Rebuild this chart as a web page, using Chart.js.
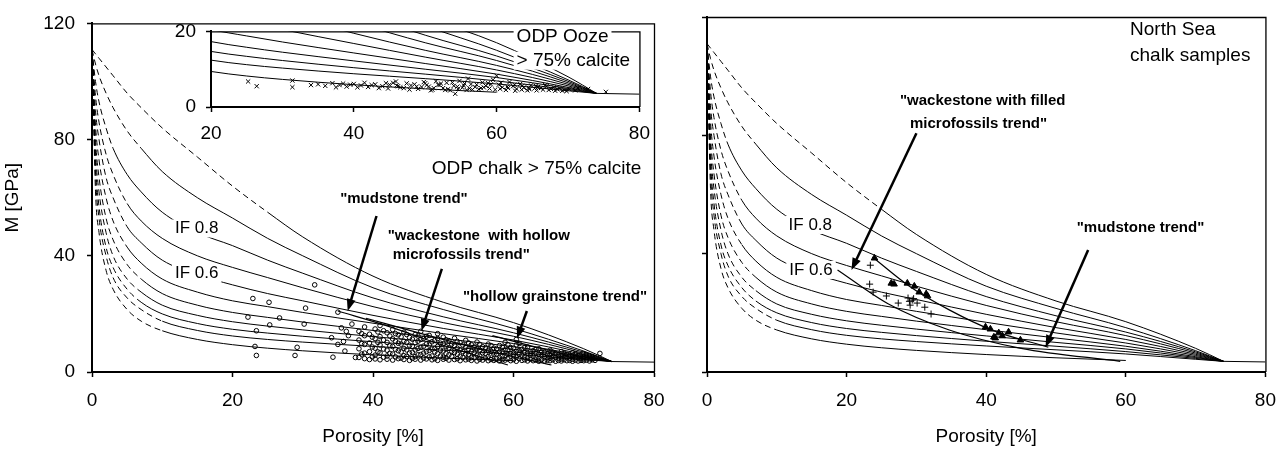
<!DOCTYPE html>
<html>
<head>
<meta charset="utf-8">
<script src="https://cdn.jsdelivr.net/npm/chart.js@4/dist/chart.umd.min.js"></script>
<style>
body { margin: 0; background: #fff; width: 1288px; height: 452px; position: relative; overflow: hidden; }
canvas { position: absolute; }
#leftChart { left: 0; top: 0; }
#rightChart { left: 680px; top: 0; }
#insetChart { left: 150px; top: 10px; }
</style>
</head>
<body>
<canvas id="leftChart" width="680" height="452"></canvas>
<canvas id="rightChart" width="608" height="452"></canvas>
<canvas id="insetChart" width="510" height="140"></canvas>
<script>
Chart.defaults.font.family = '"Liberation Sans", Arial, sans-serif';
Chart.defaults.color = '#000';
Chart.defaults.animation = false;

/* iso-frame model lines, M [GPa] read at these porosities */
const porosityGrid = [0, 0.5, 1, 2, 3, 5, 7, 10, 15, 20, 25, 30, 40, 50, 60, 70, 74];
const curveIF10 = [111, 109.5, 108, 105, 102, 96, 91, 84, 74, 64, 55, 46.5, 33, 24, 17, 8, 3.6];
const curveIF09 = [111, 106, 102, 96, 91, 83, 77, 69, 60, 53, 46, 40, 29, 21.5, 15, 7.2, 3.6];
const curveIF08 = [111, 100, 93, 84, 77, 68, 62, 55, 48, 43.5, 38.5, 34, 25.5, 19, 13.5, 6.8, 3.6];
const curveIF07 = [111, 95, 86, 75, 68, 58, 52, 46, 40, 36, 32.5, 29, 22.5, 17, 12.3, 6.4, 3.6];
const curveIF06 = [111, 90, 80, 67, 60, 50, 44.5, 38.5, 33.5, 30, 27, 24.5, 19.5, 15, 11, 6, 3.6];
const curveIF05 = [111, 85, 73, 60, 52, 43, 37.5, 32, 27.5, 24.5, 22.5, 20.5, 16.8, 13.2, 9.8, 5.6, 3.6];
const curveIF04 = [111, 80, 67, 53, 45.5, 37, 32, 27, 23, 20.5, 18.8, 17.2, 14.3, 11.5, 8.7, 5.2, 3.6];
const curveIF03 = [111, 76, 62, 48, 40, 32, 27.5, 23, 19.5, 17.3, 15.8, 14.5, 12.2, 10, 7.8, 4.9, 3.6];
const curveIF02 = [111, 72, 57, 43, 36, 28.5, 24, 20, 16.7, 14.7, 13.4, 12.3, 10.4, 8.7, 6.9, 4.6, 3.6];
const curveIF01 = [111, 68, 53, 40, 32.5, 25.5, 21.5, 17.5, 14.3, 12.4, 11.2, 10.3, 8.8, 7.5, 6.1, 4.3, 3.6];
const curveIF00 = [111, 62, 48, 35, 28.5, 21.5, 17.5, 14.2, 11.2, 9.4, 8.2, 7.3, 5.9, 4.8, 3.9, null, null];
const modelCurves = [curveIF10, curveIF09, curveIF08, curveIF07, curveIF06, curveIF05,
                     curveIF04, curveIF03, curveIF02, curveIF01, curveIF00];
const dashedUntil = [25, 7, 3, 5, 5, 5, 7, 7, 7, 10, 10];

/* suspension line beyond critical porosity */
const fluidPor = [74, 80];
const fluidM = [3.6, 3.4];

/* ODP chalk > 75% calcite */
const chalkPor = [22.9, 25.2, 30.4, 31.7, 35.0, 22.2, 26.7, 25.3, 30.2, 23.4, 23.2, 23.4,
                  28.9, 29.2, 34.3, 34.1, 35.5, 36.2, 37.0, 36.5, 35.8, 35.0, 36.0, 37.5, 72.3];
const chalkM = [25.3, 24.0, 22.0, 30.0, 20.6, 18.9, 18.6, 16.2, 16.5, 14.2, 8.8, 5.7,
                5.7, 8.5, 5.1, 11.8, 15.2, 14.0, 16.5, 12.5, 10.5, 9.5, 7.2, 5.0, 6.4];
const chalkBandPor = [38, 38.8, 39.5, 40.3, 41, 42, 42.8, 43.6, 44.4, 45.2, 46, 46.8, 47.6, 48.4,
                      49.2, 50, 50.8, 51.6, 52.4, 53.2, 54, 54.8, 55.6, 56.4, 57.2, 58, 58.8, 59.6,
                      60.4, 61.2, 62, 62.8, 63.6, 64.4, 65.2, 66, 66.8, 67.6, 68.4, 69.2, 70, 70.8, 71.6];
const chalkBandM = [
  [5, 8, 11, 14], [4.6, 6.5, 9.5, 12.5, 15.5], [4.3, 7, 10, 13], [4.5, 5.8, 8.2, 11.5, 14.8],
  [4.2, 6.6, 9.3, 12.2, 16], [4.4, 5.5, 7.5, 10.2, 13.5], [4.1, 6.2, 8.8, 11.4, 14.6],
  [4.6, 7.3, 9.9, 12.8], [4.3, 5.6, 8.1, 10.6, 13.7], [4.0, 6.5, 9.2, 11.9],
  [4.4, 5.3, 7.6, 10.1, 12.9], [4.1, 6.0, 8.5, 11.2, 14], [4.5, 7.0, 9.6, 12.3],
  [4.2, 5.5, 7.9, 10.4], [4.0, 6.3, 8.8, 11.5, 13.2], [4.4, 5.1, 7.2, 9.7, 12],
  [4.1, 5.9, 8.3, 10.8], [4.3, 6.7, 9.1, 11.6], [3.9, 5.4, 7.6, 10.1], [4.2, 6.2, 8.5, 10.9],
  [4.0, 5.0, 7.1, 9.4], [3.8, 5.8, 8, 10.3], [4.1, 6.6, 8.7], [3.9, 5.3, 7.4, 9.6],
  [4.0, 6.1, 8.2], [3.8, 4.9, 6.9, 9.1], [4.1, 5.7, 7.6, 10.2], [3.9, 6.3, 8.4],
  [3.7, 5.1, 7.1, 9.3, 11.2], [4.0, 5.8, 7.8], [3.8, 4.8, 6.5, 8.6], [3.9, 5.5, 7.3],
  [3.7, 4.6, 6.1, 8], [3.8, 5.2, 6.8], [3.9, 4.7, 5.9, 7.5], [3.7, 5.0, 6.4],
  [3.8, 4.5, 5.6, 7], [3.9, 4.9, 6.1], [3.7, 4.4, 5.4, 6.6], [3.8, 4.8, 5.8],
  [3.9, 4.5, 5.3, 6.3], [3.8, 4.6, 5.6], [4.0, 4.9]
];
const chalkBand2Por = [38.4, 39.9, 40.7, 41.5, 42.4, 43.2, 44, 44.8, 45.6, 46.4, 47.2, 48, 48.8, 49.6,
                       50.4, 51.2, 52, 52.8, 53.6, 54.4, 55.2, 56, 56.8, 57.6, 58.4, 59.2, 60, 60.8,
                       61.6, 62.4, 63.2, 64, 64.8, 65.6, 66.4, 67.2, 68, 68.8, 69.6, 70.4, 71.2];
const chalkBand2M = [
  [6.2, 9.8, 13.2], [5.2, 8.6, 12], [6.9, 10.2, 13.8], [5.1, 7.9, 11, 14.2], [6.4, 9, 12.4],
  [5.2, 7.8, 10.6, 13.2], [4.8, 6.9, 9.6, 12.1], [5.4, 7.6, 10.2, 12.9], [4.7, 6.8, 8.9, 11.3],
  [5.9, 8.1, 10.6, 12.4], [4.8, 6.5, 8.9, 11.6], [5.2, 7.4, 9.3, 12.6], [4.6, 6.9, 8.1, 10.9],
  [5.5, 7.5, 9.9], [4.7, 6.4, 8.7, 11.1], [5.3, 7.1, 9.6], [4.6, 6.1, 8.2, 10.5], [5.0, 7.0, 9.3],
  [4.5, 5.9, 7.9, 10], [4.9, 6.6, 8.6], [4.4, 5.5, 7.5, 9.5], [4.8, 6.4, 8.3], [4.3, 5.7, 7.2, 9.1],
  [4.6, 6.2, 7.9], [4.2, 5.4, 7.1, 8.6], [4.5, 6.0, 7.7, 9.4], [4.3, 5.5, 6.7, 8.2],
  [4.6, 6.2, 7.4, 9.8], [4.2, 5.2, 6.7, 8.4], [4.4, 5.8, 7.0], [4.1, 5.0, 6.5, 7.8],
  [4.3, 5.6, 6.9], [4.1, 5.0, 6.2], [4.2, 5.4, 6.8], [4.0, 4.8, 5.9], [4.2, 5.3, 6.4],
  [4.0, 4.7, 5.8], [4.1, 5.1, 6.2], [4.0, 4.6, 5.5], [4.1, 5.0, 5.9], [4.2, 4.7, 5.3]
];

/* trend lines drawn through the ODP chalk */
const mudTrendPor = [35, 42, 50, 59.2];
const mudTrendM = [21, 15.9, 9.2, 2.4];
const wackeTrendPor = [39, 46.9, 56, 65.4];
const wackeTrendM = [18.5, 13.2, 7.5, 2.4];
const grainTrendPor = [57, 65, 74];
const grainTrendM = [12.5, 7.5, 3.6];

/* ODP ooze (inset) */
const oozePor = [25.2, 26.4, 31.4, 31.4, 34, 35, 36, 37, 38, 39, 40, 41, 42, 43, 44, 45, 45.9, 46.5,
                 47.4, 48, 49, 50, 50.5, 51, 51.5, 52, 52.5, 53, 53.5, 54, 54.2, 54.8, 55.2, 55.8, 56,
                 56.4, 57, 57.5, 58, 58.5, 59, 59.5, 60, 60.3, 60.8, 61.3, 61.8, 62.3, 62.8, 63.3, 63.8,
                 64.3, 64.8, 65.3, 65.8, 66.5, 67, 67.6, 68.2, 68.8, 69.5, 70.2, 71.4, 72.8, 75.3,
                 37.5, 38.5, 39.5, 40.5, 41.5, 42.5, 43.5, 44.5, 46, 47, 48.5, 49.5, 50.2, 51.2, 52.2,
                 53.2, 54.5, 55.5, 56.2, 57.2, 58.2, 59.2, 60.5, 61.5, 62.5, 63.5, 64.5, 65.5, 66.2,
                 67.3, 68.5, 69.8, 71,
                 44.8, 45.5, 46.2, 47.8, 48.8, 49.8, 50.8, 51.8, 52.8, 53.8, 54.6, 55.4, 56.6, 57.8,
                 58.8, 59.8, 60.6, 61.6, 62.6, 63.6, 64.6, 65.6, 66.8, 68, 69.2];
const oozeM = [6.75, 5.5, 7, 5.25, 5.8, 6, 5.6, 6.3, 5.8, 5.4, 6.1, 5.7, 5.3, 6, 5.5, 5.9, 6.75, 5.2,
               6.25, 5.7, 4.8, 6.3, 5.4, 4.6, 6.8, 5.8, 5, 6.4, 4.4, 5.6, 3.5, 6.9, 5.1, 4.5, 7.5,
               6, 5.3, 4.7, 6.5, 5.6, 4.9, 7.2, 8.25, 5.9, 5.2, 4.5, 6.6, 5.5, 4.8, 6.1, 5.1,
               4.4, 5.7, 4.9, 5.3, 4.6, 5.5, 4.8, 4.3, 5, 4.5, 4.7, 5, 4.75, 4,
               5.2, 6.2, 5.9, 5.2, 6.4, 5.8, 5.0, 6.3, 5.7, 5.0, 6.0, 5.3, 5.8, 5.0, 6.2,
               4.7, 5.4, 6.2, 4.9, 5.9, 5.2, 6.0, 4.8, 5.4, 5.9, 4.6, 5.1, 5.6, 5.0,
               4.5, 4.7, 4.2, 4.4,
               4.9, 6.4, 5.5, 4.6, 5.4, 6.6, 4.4, 5.9, 4.5, 6.5, 4.8, 5.7, 4.6, 5.0,
               6.3, 4.6, 6.4, 5.0, 4.3, 5.6, 4.7, 4.4, 5.8, 5.2, 4.3];

/* North Sea chalk */
const nsTriPor = [24.0, 26.4, 26.8, 28.7, 29.7, 30.4, 31.4, 31.6, 39.9, 40.6, 41.1, 41.3, 41.8, 42.3, 43.2, 44.9];
const nsTriM = [38.5, 30.0, 29.7, 30.0, 29.0, 27.0, 26.4, 25.7, 15.2, 14.5, 11.8, 11.5, 13.2, 12.2, 13.5, 10.8];
const nsPlusPor = [23.4, 23.3, 23.8, 25.7, 27.4, 28.8, 29.0, 29.1, 29.4, 30.1, 31.2, 32.1, 29.6];
const nsPlusM = [36.1, 29.7, 27.0, 25.7, 23.3, 25.0, 23.9, 22.6, 24.3, 23.3, 21.9, 19.6, 24.8];
const plusTrendPor = [18.7, 26, 34.7, 45, 59.2];
const plusTrendM = [34.5, 23, 14.2, 8, 3.6];
const triTrendPor = [23.7, 29, 34.7, 41, 48.9];
const triTrendM = [38.9, 29, 21, 14, 8.4];

function pts(xs, ys) {
    return xs.map((x, i) => ({ x: x, y: ys[i] })).filter(p => p.y !== null);
}

function columnPts(xs, cols) {
    const out = [];
    xs.forEach((x, i) => cols[i].forEach(m => out.push({ x: x, y: m })));
    return out;
}

function modelSets() {
    const sets = modelCurves.map((m, i) => ({
        data: pts(porosityGrid, m),
        showLine: true,
        pointRadius: 0,
        borderColor: '#000',
        borderWidth: 1,
        cubicInterpolationMode: 'monotone',
        segment: { borderDash: ctx => ctx.p1.parsed.x <= dashedUntil[i] ? [6, 4] : undefined }
    }));
    sets.push({ data: pts(fluidPor, fluidM), showLine: true, pointRadius: 0, borderColor: '#000', borderWidth: 1 });
    return sets;
}

function trendSet(xs, ys) {
    return { data: pts(xs, ys), showLine: true, pointRadius: 0, borderColor: '#000',
             borderWidth: 1.2, cubicInterpolationMode: 'monotone' };
}

function markerSet(data, style, r, filled) {
    return { data: data, showLine: false, pointStyle: style, pointRadius: r, borderColor: '#000',
             borderWidth: 1, backgroundColor: filled ? '#000' : 'rgba(0,0,0,0)' };
}

/* frame, text notes and arrows */
const notesPlugin = {
    id: 'notes',
    afterDatasetsDraw(chart, args, opts) {
        const ctx = chart.ctx, a = chart.chartArea, xs = chart.scales.x, ys = chart.scales.y;
        ctx.save();
        ctx.strokeStyle = '#000';
        ctx.fillStyle = '#000';
        ctx.lineWidth = 1.3;
        ctx.beginPath();
        ctx.moveTo(a.left, a.top + 0.5);
        ctx.lineTo(a.right + 0.5, a.top + 0.5);
        ctx.lineTo(a.right + 0.5, a.bottom);
        ctx.stroke();
        (opts.labels || []).forEach(l => {
            ctx.font = l.font;
            ctx.textAlign = l.align;
            ctx.textBaseline = 'middle';
            const px = xs.getPixelForValue(l.x), py = ys.getPixelForValue(l.y);
            if (l.box) {
                const w = ctx.measureText(l.text).width;
                const left = l.align === 'left' ? px : px - w / 2;
                ctx.fillStyle = '#fff';
                ctx.fillRect(left - 3, py - 9, w + 6, 18);
                ctx.fillStyle = '#000';
            }
            ctx.fillText(l.text, px, py);
        });
        (opts.arrows || []).forEach(ar => {
            const x1 = xs.getPixelForValue(ar[0]), y1 = ys.getPixelForValue(ar[1]);
            const x2 = xs.getPixelForValue(ar[2]), y2 = ys.getPixelForValue(ar[3]);
            const ang = Math.atan2(y2 - y1, x2 - x1), head = 12, half = 4.5;
            const c = Math.cos(ang), s = Math.sin(ang);
            ctx.lineWidth = 2.5;
            ctx.beginPath();
            ctx.moveTo(x1, y1);
            ctx.lineTo(x2 - head * 0.8 * c, y2 - head * 0.8 * s);
            ctx.stroke();
            ctx.beginPath();
            ctx.moveTo(x2, y2);
            ctx.lineTo(x2 - head * c + half * s, y2 - head * s - half * c);
            ctx.lineTo(x2 - head * c - half * s, y2 - head * s + half * c);
            ctx.closePath();
            ctx.fill();
        });
        ctx.restore();
    }
};

function axes(o) {
    const grid = { drawOnChartArea: false, drawTicks: true, tickLength: 5, tickColor: '#000', tickWidth: 1.5 };
    const border = { display: true, color: '#000', width: 2 };
    return {
        x: {
            type: 'linear', min: o.xmin, max: 80,
            ticks: { stepSize: 20, font: { size: 19 }, padding: o.xpad, maxRotation: 0, autoSkip: false },
            grid: grid, border: border,
            title: { display: o.titles, text: 'Porosity [%]', font: { size: 19 }, padding: { top: 4, bottom: 4 } },
            afterFit: s => { s.height = o.xh; }
        },
        y: {
            type: 'linear', min: 0, max: o.ymax,
            ticks: { stepSize: o.ystep, font: { size: 19 }, padding: o.ypad, display: o.ylabels },
            grid: grid, border: border,
            title: { display: o.titles && o.ylabels, text: 'M [GPa]', font: { size: 19 }, padding: { top: 1, bottom: 4 } },
            afterFit: s => { s.width = o.yw; }
        }
    };
}

const boldNote = 'bold 15px "Liberation Sans", Arial, sans-serif';
const plainNote = '19px "Liberation Sans", Arial, sans-serif';
const ifNote = '17px "Liberation Sans", Arial, sans-serif';

const chalkData = pts(chalkPor, chalkM)
    .concat(columnPts(chalkBandPor, chalkBandM))
    .concat(columnPts(chalkBand2Por, chalkBand2M));

/* ODP chalk panel */
new Chart(document.getElementById('leftChart'), {
    type: 'scatter',
    data: {
        datasets: modelSets().concat([
            trendSet(mudTrendPor, mudTrendM),
            trendSet(wackeTrendPor, wackeTrendM),
            trendSet(grainTrendPor, grainTrendM),
            markerSet(chalkData, 'circle', 2.3, false)
        ])
    },
    options: {
        responsive: false,
        events: [],
        layout: { padding: { top: 17, right: 26, left: 0, bottom: 0 } },
        scales: axes({ xmin: 0, ymax: 120, ystep: 40, xh: 80, yw: 92, xpad: 12, ypad: 12, titles: true, ylabels: true }),
        plugins: {
            legend: { display: false },
            tooltip: { enabled: false },
            notes: {
                labels: [
                    { text: 'ODP chalk > 75% calcite', x: 78.2, y: 70, font: plainNote, align: 'right' },
                    { text: '"mudstone trend"', x: 44.4, y: 59.5, font: boldNote, align: 'center' },
                    { text: '"wackestone  with hollow', x: 42.1, y: 47, font: boldNote, align: 'left' },
                    { text: 'microfossils trend"', x: 42.8, y: 40.2, font: boldNote, align: 'left' },
                    { text: '"hollow grainstone trend"', x: 52.8, y: 26, font: boldNote, align: 'left' },
                    { text: 'IF 0.8', x: 14.9, y: 49.4, font: ifNote, align: 'center', box: true },
                    { text: 'IF 0.6', x: 14.9, y: 33.8, font: ifNote, align: 'center', box: true }
                ],
                arrows: [
                    [40.5, 53.7, 36.4, 21],
                    [49.8, 35.5, 46.9, 14.2],
                    [61.9, 21, 60.5, 11.5]
                ]
            }
        }
    },
    plugins: [notesPlugin]
});

/* ODP ooze inset */
new Chart(document.getElementById('insetChart'), {
    type: 'scatter',
    data: {
        datasets: modelSets().concat([
            markerSet(pts(oozePor, oozeM), 'crossRot', 3, false)
        ])
    },
    options: {
        responsive: false,
        events: [],
        layout: { padding: { top: 17, right: 18, left: 0, bottom: 0 } },
        scales: axes({ xmin: 20, ymax: 20, ystep: 20, xh: 43, yw: 61, xpad: 10, ypad: 10, titles: false, ylabels: true }),
        plugins: {
            legend: { display: false },
            tooltip: { enabled: false },
            notes: {
                labels: [
                    { text: 'ODP Ooze', x: 62.8, y: 18.5, font: plainNote, align: 'left', box: true },
                    { text: '> 75% calcite', x: 62.8, y: 12.25, font: plainNote, align: 'left', box: true }
                ]
            }
        }
    },
    plugins: [notesPlugin]
});

/* North Sea panel */
new Chart(document.getElementById('rightChart'), {
    type: 'scatter',
    data: {
        datasets: modelSets().concat([
            trendSet(plusTrendPor, plusTrendM),
            trendSet(triTrendPor, triTrendM),
            markerSet(pts(nsTriPor, nsTriM), 'triangle', 3.8, true),
            markerSet(pts(nsPlusPor, nsPlusM), 'cross', 3.5, false)
        ])
    },
    options: {
        responsive: false,
        events: [],
        layout: { padding: { top: 17, right: 20, left: 0, bottom: 0 } },
        scales: axes({ xmin: 0, ymax: 120, ystep: 40, xh: 80, yw: 27, xpad: 12, ypad: 12, titles: true, ylabels: false }),
        plugins: {
            legend: { display: false },
            tooltip: { enabled: false },
            notes: {
                labels: [
                    { text: 'North Sea', x: 60.6, y: 115.6, font: plainNote, align: 'left' },
                    { text: 'chalk samples', x: 60.6, y: 106.8, font: plainNote, align: 'left' },
                    { text: '"wackestone with filled', x: 39.5, y: 91.6, font: boldNote, align: 'center' },
                    { text: 'microfossils trend"', x: 38.9, y: 83.8, font: boldNote, align: 'center' },
                    { text: '"mudstone trend"', x: 62.1, y: 48.7, font: boldNote, align: 'center' },
                    { text: 'IF 0.8', x: 14.8, y: 49.7, font: ifNote, align: 'center', box: true },
                    { text: 'IF 0.6', x: 14.9, y: 34.5, font: ifNote, align: 'center', box: true }
                ],
                arrows: [
                    [30, 80.7, 20.7, 34.5],
                    [54.6, 41.2, 48.5, 8.4]
                ]
            }
        }
    },
    plugins: [notesPlugin]
});
</script>
</body>
</html>
